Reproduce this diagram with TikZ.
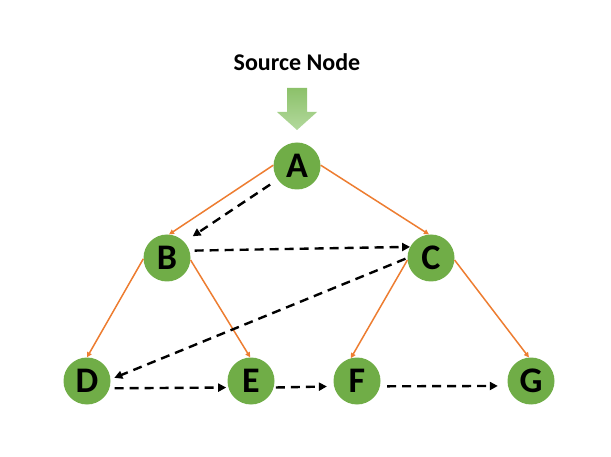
\documentclass[tikz,border=0pt]{standalone}
\usepackage{fontspec}
\setmainfont{Carlito}
\usetikzlibrary{arrows.meta}
\definecolor{nodegreen}{HTML}{70AD47}
\definecolor{edgeorange}{HTML}{ED7D31}
\definecolor{arrtop}{HTML}{8CC16A}
\definecolor{arrbot}{HTML}{B3D99D}
\begin{document}
\begin{tikzpicture}[x=1pt,y=-1pt,
  vertex/.style={circle,fill=nodegreen,draw=none,minimum size=47pt,inner sep=0pt,
    font=\fontsize{36}{36}\selectfont\bfseries},
  treeedge/.style={draw=edgeorange,line width=1.5pt,-{Triangle[length=5pt,width=5pt]}},
  visit/.style={draw=black,line width=2.4pt,dash pattern=on 9pt off 6pt,
    -{Triangle[length=8pt,width=8pt]}}
]
\useasboundingbox (0,0) rectangle (611,457);
\node[font=\fontsize{24}{24}\selectfont\bfseries] (title) at (297,62) {Source Node};
\shade[top color=arrtop,bottom color=arrbot]
  (287,88) -- (307,88) -- (307,112) -- (317,112) -- (297,130) -- (277,112) -- (287,112) -- cycle;
\node[vertex] (A) at (297,166) {A};
\node[vertex] (B) at (167,258) {B};
\node[vertex] (C) at (431,258) {C};
\node[vertex] (D) at (87,381) {D};
\node[vertex] (E) at (251,381) {E};
\node[vertex] (F) at (357,381) {F};
\node[vertex] (G) at (531,381) {G};
% tree edges
\draw[treeedge] (A.178) -- (B.85);
\draw[treeedge] (A.2) -- (C.95);
\draw[treeedge] (B.182) -- (D.90);
\draw[treeedge] (B.-5) -- (E.92);
\draw[treeedge] (C.185) -- (F.105);
\draw[treeedge] (C.-5) -- (G.95);
% traversal order
\draw[visit,shorten <=9pt,shorten >=10pt] (A.215) -- (B.43);
\draw[visit,shorten <=5pt] (B.18) -- (C.152);
\draw[visit,shorten <=2pt,shorten >=4pt] (C.180) -- (D.4);
\draw[visit,shorten <=5pt,shorten >=2pt] (D.-18) -- (E.196);
\draw[visit,shorten <=2pt,shorten >=7pt] (E.-16) -- (F.193);
\draw[visit,shorten <=7pt,shorten >=10pt] (F.-13) -- (G.192);
\end{tikzpicture}
\end{document}
